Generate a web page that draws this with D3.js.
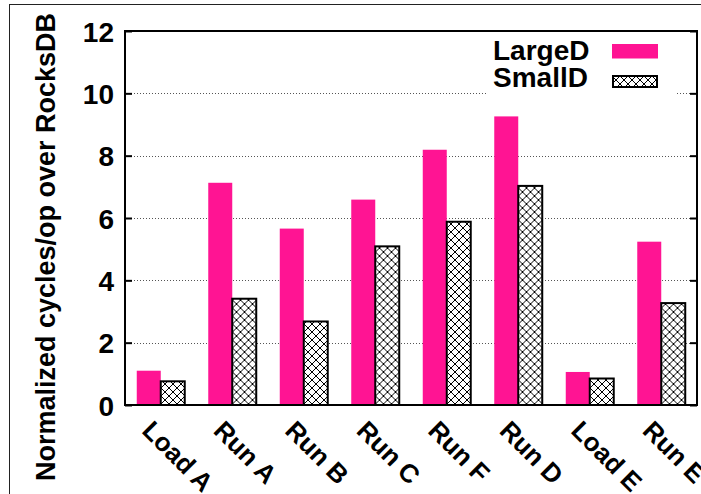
<!DOCTYPE html>
<html>
<head>
<meta charset="utf-8">
<script src="https://cdn.jsdelivr.net/npm/d3@7"></script>
<style>
  html, body { margin: 0; padding: 0; background: #fff; }
  svg { display: block; font-family: "Liberation Sans", Arial, Helvetica, sans-serif; font-weight: bold; }
</style>
</head>
<body>
<svg id="chart" width="701" height="494"></svg>
<script>
// Workloads along the x axis
const categories = ["Load A", "Run A", "Run B", "Run C", "Run F", "Run D", "Load E", "Run E"];
// Series names
const seriesNames = ["LargeD", "SmallD"];
// Normalized cycles/op relative to RocksDB
const largeD = [1.10, 7.13, 5.66, 6.59, 8.19, 9.26, 1.06, 5.24];
const smallD = [0.76, 3.41, 2.68, 5.09, 5.88, 7.03, 0.85, 3.27];
// Y axis ticks
const yTicks = [0, 2, 4, 6, 8, 10, 12];
const gridTicks = [2, 4, 6, 8, 10];

const rows = categories.map((c, i) => ({ cat: c, LargeD: largeD[i], SmallD: smallD[i] }));

const svg = d3.select("#chart");
const plotLeft = 125, plotRight = 697, plotTop = 31, plotBottom = 405;
const pink = "#ff1493";

// Crosshatch fill
const defs = svg.append("defs");
const pat = defs.append("pattern")
  .attr("id", "xhatch")
  .attr("patternUnits", "userSpaceOnUse")
  .attr("width", 8).attr("height", 8);
pat.append("rect").attr("width", 8).attr("height", 8).attr("fill", "#fff");
pat.append("path")
  .attr("d", "M0,0L8,8M8,0L0,8M-1,7L1,9M7,-1L9,1M-1,1L1,-1M7,9L9,7")
  .attr("stroke", "#000").attr("stroke-width", 1).attr("fill", "none");

// Outer frame
svg.append("rect")
  .attr("x", 9.5).attr("y", 4.5).attr("width", 720).attr("height", 520)
  .attr("fill", "none").attr("stroke", "#222").attr("stroke-width", 1);

const x = d3.scaleBand().domain(categories).range([plotLeft, plotRight]).paddingInner(0).paddingOuter(0);
const xs = d3.scaleBand().domain(seriesNames).range([0, x.bandwidth()]).paddingInner(0).paddingOuter(0.49);
const y = d3.scaleLinear().domain([0, 12]).range([plotBottom, plotTop]);
const fills = { LargeD: pink, SmallD: "url(#xhatch)" };

// Dotted grid
svg.append("g").selectAll("line").data(gridTicks).join("line")
  .attr("x1", plotLeft).attr("x2", plotRight)
  .attr("y1", d => Math.round(y(d)) + 0.5).attr("y2", d => Math.round(y(d)) + 0.5)
  .attr("stroke", "#555").attr("stroke-width", 1).attr("stroke-dasharray", "1,2");

// Bars
const groups = svg.append("g").selectAll("g").data(rows).join("g")
  .attr("transform", d => `translate(${x(d.cat)},0)`);
groups.selectAll("rect").data(d => seriesNames.map(k => ({ key: k, v: d[k] }))).join("rect")
  .attr("x", d => xs(d.key))
  .attr("y", d => y(d.v))
  .attr("width", xs.bandwidth())
  .attr("height", d => y(0) - y(d.v))
  .attr("fill", d => fills[d.key])
  .attr("stroke", d => d.key === "SmallD" ? "#000" : "none")
  .attr("stroke-width", 2);

// Legend (opaque box)
const lg = svg.append("g");
lg.append("rect").attr("x", 487).attr("y", 34).attr("width", 188).attr("height", 63).attr("fill", "#fff");
lg.append("text").attr("x", 493).attr("y", 60).attr("font-size", 28).text(seriesNames[0]);
lg.append("text").attr("x", 493).attr("y", 87).attr("font-size", 28).text(seriesNames[1]);
lg.append("rect").attr("x", 612).attr("y", 44).attr("width", 46).attr("height", 14.5).attr("fill", pink);
lg.append("rect").attr("x", 613).attr("y", 76).attr("width", 44).attr("height", 11)
  .attr("fill", "url(#xhatch)").attr("stroke", "#000").attr("stroke-width", 2);

// Left axis with inward ticks
const yAxisL = svg.append("g").attr("transform", `translate(${plotLeft},0)`)
  .call(d3.axisLeft(y).tickValues(yTicks).tickSize(-7).tickPadding(11));
yAxisL.select(".domain").remove();
yAxisL.selectAll("line").attr("stroke", "#000").attr("stroke-width", 2);
yAxisL.selectAll("text").attr("font-size", 28).attr("font-family", "Liberation Sans, Arial, sans-serif")
  .attr("font-weight", "bold").attr("fill", "#000").attr("dy", "0.36em");

// Right axis ticks
const yAxisR = svg.append("g").attr("transform", `translate(${plotRight},0)`)
  .call(d3.axisRight(y).tickValues(yTicks).tickSize(-7).tickFormat(""));
yAxisR.select(".domain").remove();
yAxisR.selectAll("line").attr("stroke", "#000").attr("stroke-width", 2);

// Bottom axis labels, rotated
const xAxis = svg.append("g").attr("transform", `translate(0,${plotBottom})`)
  .call(d3.axisBottom(x).tickSize(0));
xAxis.select(".domain").remove();
xAxis.selectAll("text")
  .attr("x", 0).attr("y", 0).attr("dy", null)
  .attr("transform", "translate(-20,27) rotate(45)")
  .style("text-anchor", "start")
  .attr("font-size", 26).attr("font-family", "Liberation Sans, Arial, sans-serif")
  .attr("font-weight", "bold").attr("fill", "#000");

// Plot border
svg.append("rect")
  .attr("x", plotLeft).attr("y", plotTop).attr("width", plotRight - plotLeft).attr("height", plotBottom - plotTop)
  .attr("fill", "none").attr("stroke", "#000").attr("stroke-width", 2);

// Y axis title
svg.append("text")
  .attr("transform", `translate(55,${(12 + 482) / 2}) rotate(-90)`)
  .attr("text-anchor", "middle")
  .attr("font-size", 27)
  .text("Normalized cycles/op over RocksDB");
</script>
</body>
</html>
